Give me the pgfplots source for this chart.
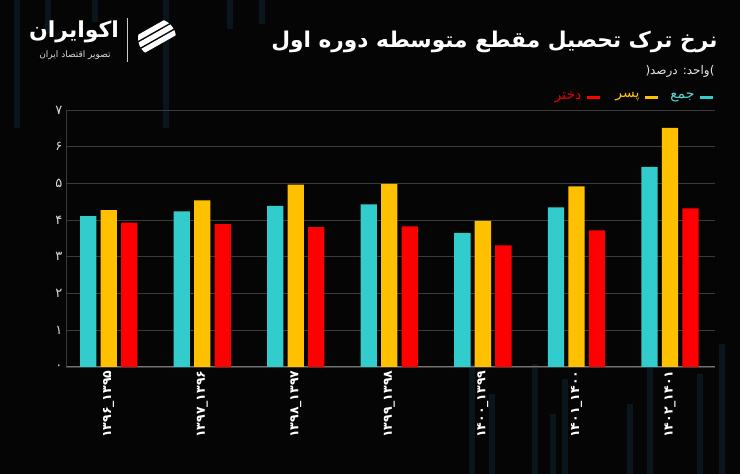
\documentclass[border=0pt]{standalone}
\usepackage{pgfplots}
\usepackage{pgfplotstable}
\pgfplotsset{compat=1.18}
\usepackage{fontspec}
\setmainfont{DejaVu Sans}
\newfontfamily\arabicfont[Script=Arabic]{DejaVu Sans}
\TeXXeTstate=1

\definecolor{bg}{HTML}{050505}
\definecolor{cyanbar}{HTML}{33CCCC}
\definecolor{yellowbar}{HTML}{FFC000}
\definecolor{redbar}{HTML}{FF0000}
\definecolor{gridc}{HTML}{3A3A3A}
\definecolor{deco}{HTML}{0A161C}

% rates of dropout, lower secondary (percent)
\pgfplotstableread{
x jam pesar dokhtar
0 4.11 4.27 3.93
1 4.24 4.54 3.89
2 4.39 4.97 3.81
3 4.43 4.99 3.83
4 3.65 3.98 3.31
5 4.35 4.92 3.72
6 5.45 6.51 4.32
}\dropout

\begin{document}
\begin{tikzpicture}[x=1pt,y=1pt]
\fill[bg] (0,0) rectangle (740,474);

% faint background streaks
\foreach \xx/\ya/\yb in {17/474/346, 48/474/440, 95/474/452, 166/474/346, 230/474/445, 262/474/450,
  472/110/0, 492/80/0, 535/110/0, 553/60/0, 565/95/0, 630/70/0, 650/115/0, 700/100/0, 722/130/0}
  \fill[deco] (\xx-3,\yb) rectangle (\xx+3,\ya);

% logo
\node[anchor=center, text=white, font=\arabicfont\bfseries\fontsize{22}{22}\selectfont] at (74,442) {\beginR اکوایران\endR};
\node[anchor=center, text=white!85!black, font=\arabicfont\fontsize{9}{9}\selectfont] at (75,419) {\beginR تصویر اقتصاد ایران\endR};
\draw[white!80!black, line width=0.8pt] (127,456) -- (127,412);
\begin{scope}
  \clip (157,436) circle (19);
  \foreach \s in {-14,0,14}
    \fill[white] ({127+\s},419) -- ++(60,34) -- ++(0,6) -- ++(-60,-34) -- cycle;
\end{scope}

% title block
\node[anchor=east, text=white, font=\arabicfont\bfseries\fontsize{21.7}{22}\selectfont] at (721,432)
  {\beginR نرخ ترک تحصیل مقطع متوسطه دوره اول\endR};
\node[anchor=east, text=white!90!black, font=\arabicfont\fontsize{12}{12}\selectfont] at (718,403)
  {(\beginR واحد: درصد\endR)};

% legend
\draw[cyanbar, line width=3pt] (700,376) -- (713,376);
\node[anchor=east, text=cyanbar!80!white, font=\arabicfont\fontsize{14}{14}\selectfont] at (698,377) {\beginR جمع\endR};
\draw[yellowbar, line width=3pt] (645,376) -- (658,376);
\node[anchor=east, text=yellowbar, font=\arabicfont\fontsize{14}{14}\selectfont] at (643,377) {\beginR پسر\endR};
\draw[redbar, line width=3pt] (587,376) -- (600,376);
\node[anchor=east, text=redbar!90!black, font=\arabicfont\fontsize{14}{14}\selectfont] at (585,377) {\beginR دختر\endR};

\begin{axis}[
    at={(66pt,107pt)}, anchor=south west,
    scale only axis, width=649pt, height=257pt,
    xmin=-0.456, xmax=6.481, ymin=0, ymax=7,
    ybar=4.2pt, bar width=16.3pt,
    axis x line*=bottom, axis y line*=left,
    x axis line style={-, draw=white!45!black, line width=1pt},
    y axis line style={-, draw=gridc, line width=0.8pt},
    ymajorgrids, grid style={draw=gridc, line width=0.8pt},
    major tick length=0pt,
    xtick={0,...,6},
    xticklabels={\beginR ۱۳۹۵\_۱۳۹۶\endR, \beginR ۱۳۹۶\_۱۳۹۷\endR, \beginR ۱۳۹۷\_۱۳۹۸\endR,
      \beginR ۱۳۹۸\_۱۳۹۹\endR, \beginR ۱۳۹۹\_۱۴۰۰\endR, \beginR ۱۴۰۰\_۱۴۰۱\endR, \beginR ۱۴۰۱\_۱۴۰۲\endR},
    xticklabel style={rotate=90, anchor=east, text=white, font=\arabicfont\bfseries\fontsize{12.5}{12.5}\selectfont},
    ytick={0,...,7},
    yticklabels={۰,۱,۲,۳,۴,۵,۶,۷},
    yticklabel style={text=white!85!black, font=\arabicfont\fontsize{13}{13}\selectfont},
]
\addplot[fill=cyanbar, draw=none] table[x=x, y=jam] {\dropout};
\addplot[fill=yellowbar, draw=none] table[x=x, y=pesar] {\dropout};
\addplot[fill=redbar, draw=none] table[x=x, y=dokhtar] {\dropout};
\end{axis}
\end{tikzpicture}
\end{document}
